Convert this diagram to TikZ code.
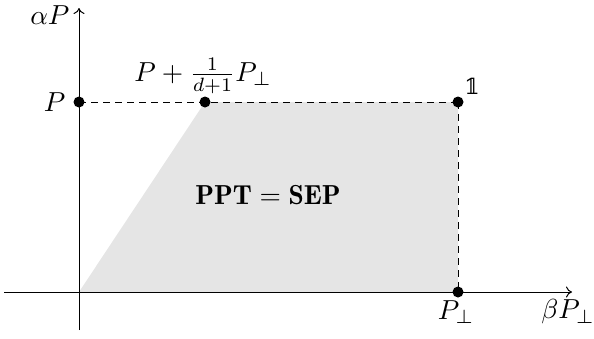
\documentclass[tikz,border=0pt]{standalone}
\usepackage{fontspec}
\newfontfamily\djv{DejaVu Serif}
\IfFileExists{dsfont.sty}{\usepackage{dsfont}\newcommand{\myone}{$\mathds{1}$}}{\IfFileExists{bbm.sty}{\usepackage{bbm}\newcommand{\myone}{$\mathbbm{1}$}}{\IfFileExists{bbold.sty}{\usepackage{bbold}\newcommand{\myone}{$\mathbb{1}$}}{\newcommand{\myone}{{\djv 𝟙}}}}}
\usetikzlibrary{arrows.meta}
\begin{document}
\begin{tikzpicture}[x=1pt,y=-1pt,
  lbl/.style={scale=2.75,inner sep=0pt},
  dot/.style={circle,fill=black,inner sep=0pt,minimum size=11pt},
  axis/.style={line width=1pt,-{To[length=6pt,width=11pt]}},
  guide/.style={line width=0.9pt,dash pattern=on 7pt off 5pt}]
\useasboundingbox (0,0) rectangle (594,338);
\coordinate (O) at (79,292);
\coordinate (A) at (205,102);
\coordinate (B) at (458,102);
\coordinate (C) at (458,292);
\coordinate (Y0) at (79,102);
\fill[gray!20] (O) -- (A) -- (B) -- (C) -- cycle;
\coordinate (xs) at (4,292);
\coordinate (xe) at (572,292);
\coordinate (ys) at (79,330);
\coordinate (ye) at (79,8);
\draw[axis] (xs) -- (xe);
\draw[axis] (ys) -- (ye);
\draw[guide] (Y0) -- (B);
\draw[guide] (B) -- (C);
\node[dot] (p) at (Y0) {};
\node[dot] (q) at (A) {};
\node[dot] (one) at (B) {};
\node[dot] (pp) at (C) {};
\node[lbl,anchor=east] (aP) at (70,15) {$\alpha P$};
\node[lbl,anchor=east] (Pl) at (66,102) {$P$};
\node[lbl] (ql) at (203,76) {$P+\frac{1}{d+1}P_\perp$};
\node[lbl,scale=0.8] (onel) at (472,86) {\myone};
\node[lbl] (ppl) at (456,312) {$P_\perp$};
\node[lbl] (bl) at (568,312) {$\beta P_\perp$};
\node[lbl] (sep) at (268,195) {$\mathbf{PPT}=\mathbf{SEP}$};
\end{tikzpicture}
\end{document}
